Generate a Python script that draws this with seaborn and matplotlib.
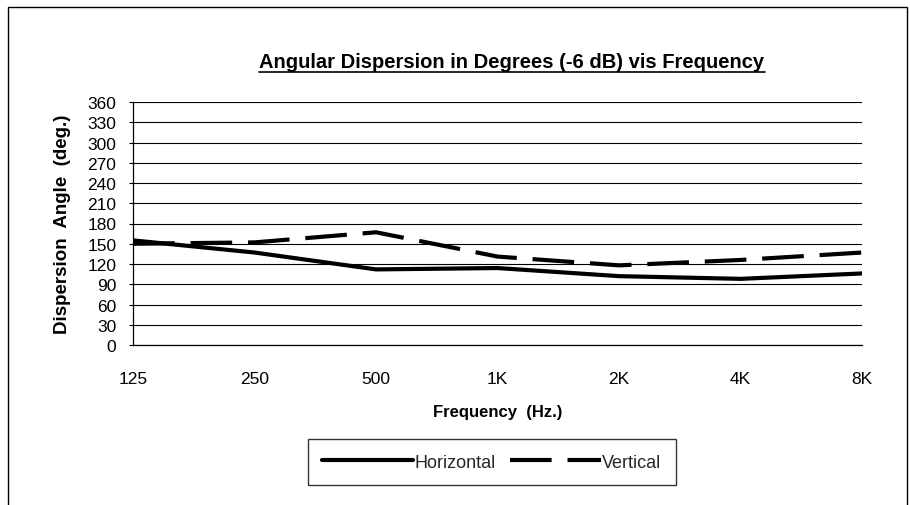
import matplotlib
matplotlib.use("Agg")
import matplotlib.pyplot as plt
import seaborn as sns
import pandas as pd
from matplotlib.patches import Rectangle
from matplotlib.lines import Line2D

frequencies = ["125", "250", "500", "1K", "2K", "4K", "8K"]
horizontal = [155, 137, 112, 114, 102, 98, 106]
vertical = [150, 152, 167, 131, 118, 126, 137]
y_ticks = list(range(0, 361, 30))

sns.set_theme(style="white")
plt.rcParams["font.family"] = ["Liberation Sans", "DejaVu Sans"]

df = pd.DataFrame({
    "pos": list(range(len(frequencies))) * 2,
    "value": horizontal + vertical,
    "series": ["Horizontal"] * len(frequencies) + ["Vertical"] * len(frequencies),
})

LW = 3.0
DASH = (10, 3.8)

fig = plt.figure(figsize=(9.1, 5.06), dpi=100)
ax = fig.add_axes([133 / 910, 1 - 346 / 506, (862 - 133) / 910, (346 - 103) / 506])

sns.lineplot(data=df, x="pos", y="value", hue="series", style="series",
             palette={"Horizontal": "black", "Vertical": "black"},
             dashes={"Horizontal": "", "Vertical": DASH},
             linewidth=LW, ax=ax, legend=False)

ax.set_xlim(0, len(frequencies) - 1)
ax.set_ylim(0, 360)
ax.set_yticks(y_ticks)
ax.set_yticklabels([str(v) for v in y_ticks], fontsize=12.5)
ax.set_xticks(range(len(frequencies)))
ax.set_xticklabels(frequencies, fontsize=12.5)
ax.tick_params(axis="x", pad=19, length=0)
ax.tick_params(axis="y", pad=9, length=3, direction="out", left=True, width=0.8, color="black")
for lab in ax.get_yticklabels() + ax.get_xticklabels():
    lab.set_color("black")
ax.grid(axis="y", color="black", linewidth=0.8)
ax.set_axisbelow(True)
for s in ["top", "right"]:
    ax.spines[s].set_visible(False)
for s in ["left", "bottom"]:
    ax.spines[s].set_color("black")
    ax.spines[s].set_linewidth(0.9)

ax.set_xlabel("Frequency  (Hz.)", fontsize=12, fontweight="bold", labelpad=13, color="black")
ax.set_ylabel("Dispersion  Angle  (deg.)", fontsize=13.5, fontweight="bold", labelpad=12, color="black")

title = fig.text(512 / 910, 1 - 62 / 506, "Angular Dispersion in Degrees (-6 dB) vis Frequency",
                 ha="center", va="center", fontsize=14.5, fontweight="bold", color="black")
fig.canvas.draw()
bb = title.get_window_extent().transformed(fig.transFigure.inverted())
fig.add_artist(Line2D([bb.x0, bb.x1], [bb.y0 - 0.003, bb.y0 - 0.003], color="black", linewidth=1.2,
                      transform=fig.transFigure))

# outer border
fig.add_artist(Rectangle((8 / 910, -0.01), (907 - 8) / 910, 1 - 8 / 506 + 0.01,
                         fill=False, edgecolor="black", linewidth=1.0, transform=fig.transFigure))

handles = [Line2D([0], [0], color="black", linewidth=LW),
           Line2D([0], [0], color="black", linewidth=LW, dashes=DASH)]
leg = fig.legend(handles, ["Horizontal", "Vertical"], loc="center",
                 bbox_to_anchor=(492 / 910, 1 - 463 / 506), ncol=2, fontsize=13,
                 frameon=True, fancybox=False, edgecolor="black", handlelength=5.0,
                 handletextpad=0.1, columnspacing=0.8, borderpad=0.8, borderaxespad=0)
leg.get_frame().set_linewidth(1.0)

fig.savefig("out.png", dpi=100, facecolor="white")
